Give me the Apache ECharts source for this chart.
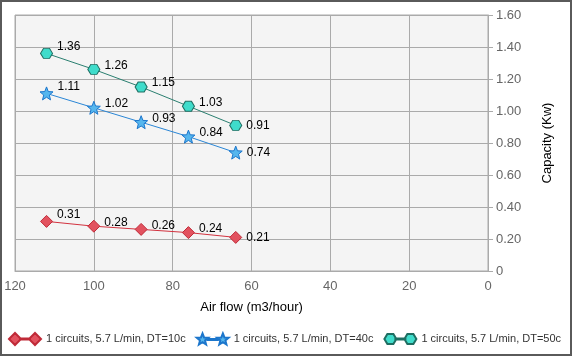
<!DOCTYPE html>
<html>
<head>
<meta charset="utf-8">
<script src="https://cdn.jsdelivr.net/npm/echarts@6/dist/echarts.min.js"></script>
<style>
html,body{margin:0;padding:0;background:#fff;}
#c{width:572px;height:356px;}
</style>
</head>
<body>
<div id="c"></div>
<script>
var airFlow = [112, 100, 88, 76, 64];
var dt10 = [0.31, 0.28, 0.26, 0.24, 0.21];
var dt40 = [1.11, 1.02, 0.93, 0.84, 0.74];
var dt50 = [1.36, 1.26, 1.15, 1.03, 0.91];
var seriesNames = ['1 circuits, 5.7 L/min, DT=10c', '1 circuits, 5.7 L/min, DT=40c', '1 circuits, 5.7 L/min, DT=50c'];
var xTicks = [0, 20, 40, 60, 80, 100, 120];
var yTicks = [0, 0.2, 0.4, 0.6, 0.8, 1.0, 1.2, 1.4, 1.6];

function starPath(cx, cy, R, r) {
  var p = '';
  for (var i = 0; i < 10; i++) {
    var a = -Math.PI / 2 + i * Math.PI / 5;
    var rad = i % 2 === 0 ? R : r;
    p += (i === 0 ? 'M' : 'L') + (cx + rad * Math.cos(a)).toFixed(2) + ' ' + (cy + rad * Math.sin(a)).toFixed(2) + ' ';
  }
  return p + 'Z ';
}
function hexPath(cx, cy, rx, ry) {
  return 'M' + (cx - rx) + ' ' + cy + ' L' + (cx - rx / 2) + ' ' + (cy - ry) + ' L' + (cx + rx / 2) + ' ' + (cy - ry) +
    ' L' + (cx + rx) + ' ' + cy + ' L' + (cx + rx / 2) + ' ' + (cy + ry) + ' L' + (cx - rx / 2) + ' ' + (cy + ry) + ' Z ';
}
function diamondPath(cx, cy, r) {
  return 'M' + (cx - r) + ' ' + cy + ' L' + cx + ' ' + (cy - r) + ' L' + (cx + r) + ' ' + cy + ' L' + cx + ' ' + (cy + r) + ' Z ';
}
var linkBar = 'M11 5.5 L21 5.5 L21 6.5 L11 6.5 Z';
var diamondSym = 'path://' + diamondPath(6, 6, 6);
var starSym = 'path://' + starPath(6, 6, 6, 2.6);
var hexSym = 'path://' + hexPath(6, 5, 6, 5);
var diamondLeg = 'path://' + diamondPath(6, 6, 6) + diamondPath(26, 6, 6) + linkBar;
var starLeg = 'path://' + starPath(6, 6, 6, 2.6) + starPath(26, 6, 6, 2.6) + linkBar;
var hexLeg = 'path://' + hexPath(6, 6, 6, 5) + hexPath(26, 6, 6, 5) + linkBar;

function build(vals) {
  return vals.map(function (v, i) {
    var dy = i === 0 ? -7 : (i === vals.length - 1 ? 0 : -4);
    return { value: [airFlow[i], v], label: { offset: [0, dy] } };
  });
}
function mk(name, vals, sym, size, fill, border, line) {
  return {
    name: name, type: 'line', data: build(vals),
    symbol: sym, symbolSize: size,
    lineStyle: { color: line, width: 1 },
    itemStyle: { color: fill, borderColor: border, borderWidth: 1 },
    label: { show: true, position: 'right', distance: 4, color: '#000', fontSize: 12,
      fontFamily: 'Liberation Sans, Arial, sans-serif',
      formatter: function (p) { return p.value[1].toFixed(2); } },
    emphasis: { disabled: true }, animation: false
  };
}
var chart = echarts.init(document.getElementById('c'), null, { renderer: 'canvas' });
chart.setOption({
  animation: false,
  backgroundColor: '#fff',
  textStyle: { fontFamily: 'Liberation Sans, Arial, sans-serif' },
  grid: { left: 15, right: 84, top: 15, bottom: 85, show: true, backgroundColor: '#f4f4f4', borderColor: '#aaa', borderWidth: 1 },
  xAxis: {
    type: 'value', inverse: true, min: xTicks[0], max: xTicks[xTicks.length - 1], interval: 20,
    name: 'Air flow (m3/hour)', nameLocation: 'middle', nameGap: 30,
    nameTextStyle: { color: '#000', fontSize: 13 },
    axisLine: { show: true, lineStyle: { color: '#aaa' } },
    axisTick: { show: false },
    axisLabel: { color: '#666', fontSize: 13, margin: 9 },
    splitLine: { show: true, lineStyle: { color: '#aaa' } }
  },
  yAxis: {
    type: 'value', position: 'right', min: yTicks[0], max: yTicks[yTicks.length - 1], interval: 0.2,
    name: 'Capacity (Kw)', nameLocation: 'middle', nameGap: 53, nameRotate: 90,
    nameTextStyle: { color: '#000', fontSize: 13 },
    axisLine: { show: true, lineStyle: { color: '#aaa' } },
    axisTick: { show: true, length: 5, lineStyle: { color: '#aaa' } },
    axisLabel: { color: '#666', fontSize: 13, margin: 8,
      formatter: function (v) { return v === 0 ? '0' : v.toFixed(2); } },
    splitLine: { show: true, lineStyle: { color: '#aaa' } }
  },
  legend: {
    bottom: 10, left: 8, width: 572, padding: 0, itemWidth: 32, itemHeight: 12, itemGap: 10,
    textStyle: { color: '#333', fontSize: 11 },
    data: [
      { name: seriesNames[0], icon: diamondLeg },
      { name: seriesNames[1], icon: starLeg },
      { name: seriesNames[2], icon: hexLeg }
    ]
  },
  graphic: [{ type: 'rect', shape: { x: 1, y: 1, width: 570, height: 354 }, style: { fill: 'none', stroke: '#5a5a5a', lineWidth: 2 }, silent: true, z: 100 }],
  series: [
    mk(seriesNames[0], dt10, diamondSym, [12, 12], '#e2525f', '#c02a38', '#d2323f'),
    mk(seriesNames[1], dt40, starSym, [13, 13], '#55b6ee', '#1c76cc', '#2a86d6'),
    mk(seriesNames[2], dt50, hexSym, [12, 10], '#3fdccb', '#1f6e62', '#2a7f70')
  ]
});
</script>
</body>
</html>
